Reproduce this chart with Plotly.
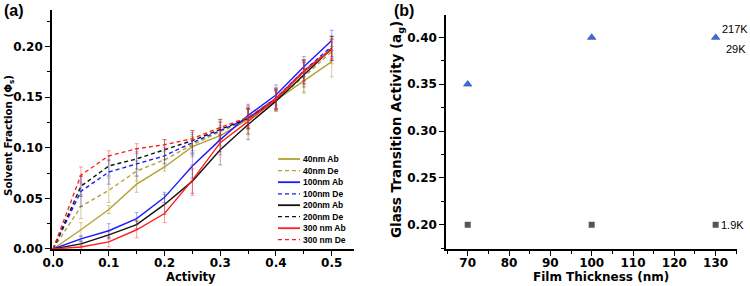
import plotly.graph_objects as go

activity = [0, 0.05, 0.1, 0.15, 0.2, 0.25, 0.3, 0.35, 0.4, 0.45, 0.5]

series_names = ["40nm Ab", "40nm De", "100nm Ab", "100nm De",
                "200nm Ab", "200nm De", "300 nm Ab", "300 nm De"]
y_40ab = [0, 0.019, 0.039, 0.064, 0.081, 0.101, 0.112, 0.128, 0.147, 0.166, 0.185]
y_40de = [0, 0.042, 0.058, 0.077, 0.088, 0.103, 0.116, 0.128, 0.147, 0.170, 0.195]
y_100ab = [0, 0.010, 0.018, 0.030, 0.051, 0.082, 0.108, 0.132, 0.152, 0.180, 0.206]
y_100de = [0, 0.057, 0.076, 0.084, 0.092, 0.105, 0.117, 0.129, 0.149, 0.176, 0.200]
y_200ab = [0, 0.005, 0.014, 0.024, 0.044, 0.067, 0.098, 0.123, 0.146, 0.172, 0.198]
y_200de = [0, 0.062, 0.082, 0.089, 0.098, 0.107, 0.118, 0.129, 0.148, 0.175, 0.198]
y_300ab = [0, 0.002, 0.007, 0.019, 0.035, 0.068, 0.105, 0.126, 0.148, 0.175, 0.197]
y_300de = [0, 0.073, 0.092, 0.099, 0.103, 0.109, 0.120, 0.130, 0.149, 0.176, 0.198]

e_40ab = [0, 0.007, 0.004, 0.008, 0.004, 0.010, 0.010, 0.015, 0.010, 0.012, 0.015]
e_40de = [0, 0.012, 0.012, 0.010, 0.008, 0.010, 0.010, 0.010, 0.010, 0.015, 0.012]
e_100ab = [0, 0.003, 0.007, 0.006, 0.005, 0.012, 0.012, 0.010, 0.010, 0.010, 0.010]
e_100de = [0, 0.015, 0.012, 0.012, 0.008, 0.010, 0.008, 0.010, 0.010, 0.010, 0.010]
e_200ab = [0, 0.003, 0.004, 0.004, 0.010, 0.012, 0.015, 0.015, 0.010, 0.012, 0.012]
e_200de = [0, 0.010, 0.010, 0.010, 0.010, 0.010, 0.010, 0.010, 0.010, 0.012, 0.012]
e_300ab = [0, 0.002, 0.005, 0.008, 0.009, 0.015, 0.012, 0.012, 0.010, 0.012, 0.010]
e_300de = [0, 0.008, 0.005, 0.005, 0.005, 0.008, 0.008, 0.010, 0.010, 0.010, 0.010]

thickness = [70, 100, 130]
ag_19k = [0.20, 0.20, 0.20]
ag_217k = [0.35, 0.40, 0.40]
ag_29k = [0.35, 0.40, 0.40]
mw_labels = ["217K", "29K", "1.9K"]

ys = [y_40ab, y_40de, y_100ab, y_100de, y_200ab, y_200de, y_300ab, y_300de]
es = [e_40ab, e_40de, e_100ab, e_100de, e_200ab, e_200de, e_300ab, e_300de]
colors = ["#b3a233", "#b3a233", "#1a1aff", "#1a1aff", "#111111", "#111111", "#ff1f1f", "#ff1f1f"]
ecolors = ["rgba(179,162,51,0.55)", "rgba(179,162,51,0.55)", "rgba(40,40,255,0.4)", "rgba(40,40,255,0.4)",
           "rgba(60,60,60,0.45)", "rgba(60,60,60,0.45)", "rgba(255,40,40,0.45)", "rgba(255,40,40,0.45)"]
dashes = ["solid", "4px,3px"] * 4

fig = go.Figure()
for name, y, e, c, ec, d in zip(series_names, ys, es, colors, ecolors, dashes):
    fig.add_trace(go.Scatter(
        x=activity, y=y, name=name, mode="lines",
        line=dict(color=c, width=1.4, dash=d),
        error_y=dict(type="data", array=e, visible=True, color=ec, thickness=1, width=2),
        xaxis="x", yaxis="y", showlegend=False))

fig.add_trace(go.Scatter(x=thickness, y=ag_19k, mode="markers",
                         marker=dict(symbol="square", size=6, color="#555555"),
                         xaxis="x2", yaxis="y2", showlegend=False))
fig.add_trace(go.Scatter(x=thickness, y=ag_217k, mode="markers",
                         marker=dict(symbol="triangle-up", size=8, color="#e03030"),
                         xaxis="x2", yaxis="y2", showlegend=False))
fig.add_trace(go.Scatter(x=thickness, y=ag_29k, mode="markers",
                         marker=dict(symbol="triangle-up", size=8, color="#2f6fe0"),
                         xaxis="x2", yaxis="y2", showlegend=False))

BOLD = "DejaVu Sans"
tickfont = dict(family=BOLD, size=12, color="black", weight="bold")
common = dict(showline=True, linecolor="black", linewidth=1.5, ticks="outside",
              ticklen=5, tickwidth=1.3, tickcolor="black", showgrid=False, zeroline=False,
              tickfont=tickfont, mirror=False, automargin=False)
minor_common = dict(ticks="outside", ticklen=3, tickcolor="black", tickwidth=1.2)

fig.update_layout(
    width=750, height=286, margin=dict(l=0, r=0, t=0, b=0, pad=0, autoexpand=False),
    paper_bgcolor="white", plot_bgcolor="white", showlegend=False,
    xaxis=dict(domain=[0.0693, 0.472], range=[-0.002, 0.54], dtick=0.1, tick0=0,
               tickformat=".1f", anchor="y", ticklabelstandoff=-3,
               minor=dict(dtick=0.05, **minor_common), **common),
    yaxis=dict(domain=[0.1294, 0.965], range=[0, 0.236], dtick=0.05, tick0=0,
               tickformat=".2f", anchor="x", minor=dict(dtick=0.025, **minor_common), **common),
    xaxis2=dict(domain=[0.5947, 0.9823], range=[64.75, 135.1], dtick=10, tick0=0,
                anchor="y2", ticklabelstandoff=-3,
                minor=dict(dtick=5, **minor_common), **common),
    yaxis2=dict(domain=[0.1294, 0.9476], range=[0.174, 0.424], dtick=0.05, tick0=0,
                tickformat=".2f", anchor="x2", minor=dict(dtick=0.025, **minor_common), **common),
)

def ann(text, xp, yp, size, angle=0, bold=True, family=BOLD):
    fig.add_annotation(text=text, x=xp / 750, y=1 - yp / 286, xref="paper", yref="paper",
                       xanchor="center", yanchor="middle", showarrow=False, textangle=angle,
                       font=dict(family=family, size=size, color="black",
                                 weight="bold" if bold else "normal"))

# axis titles
ann("Activity", 191, 277, 11.5)
ann("Film Thickness (nm)", 601, 277, 12)
ann("Solvent Fraction (Φ<sub>s</sub>)", 9, 136, 10.3, angle=-90)
ann("Glass Transition Activity (a<sub>g</sub>)", 397, 130, 13.5, angle=-90)

# panel labels
fig.add_annotation(text="(a)", x=0.003, y=1.0, xref="paper", yref="paper", xanchor="left", yanchor="top",
                   showarrow=False, font=dict(family="Liberation Sans, Arial", size=16, color="black", weight="bold"))
fig.add_annotation(text="(b)", x=0.522, y=1.0, xref="paper", yref="paper", xanchor="left", yanchor="top",
                   showarrow=False, font=dict(family="Liberation Sans, Arial", size=16, color="black", weight="bold"))

# molecular weight labels
lab_font = dict(family="Liberation Sans, Arial", size=11, color="black")
fig.add_annotation(text=mw_labels[0], x=thickness[2], y=ag_217k[2], xref="x2", yref="y2",
                   xanchor="left", yanchor="middle", xshift=4, yshift=8, showarrow=False, font=lab_font)
fig.add_annotation(text=mw_labels[1], x=thickness[2], y=ag_29k[2], xref="x2", yref="y2",
                   xanchor="left", yanchor="middle", xshift=8, yshift=-12, showarrow=False, font=lab_font)
fig.add_annotation(text=mw_labels[2], x=thickness[2], y=ag_19k[2], xref="x2", yref="y2",
                   xanchor="left", yanchor="middle", xshift=3, yshift=0, showarrow=False, font=lab_font)

# legend drawn manually
leg_y = [159, 170.6, 182.2, 193.8, 205.2, 216.6, 228.2, 239.6]
for name, c, d, yy in zip(series_names, colors, dashes, leg_y):
    yp = 1 - yy / 286
    fig.add_shape(type="line", xref="paper", yref="paper", x0=278 / 750, x1=300 / 750, y0=yp, y1=yp,
                  line=dict(color=c, width=1.8 if d == "solid" else 1.3, dash=d))
    fig.add_annotation(text=name, x=301 / 750, y=yp, xref="paper", yref="paper", xanchor="left",
                       yanchor="middle", showarrow=False,
                       font=dict(family="Liberation Sans, Arial", size=8.5, color="black", weight="bold"))

fig.write_html("out.html")
